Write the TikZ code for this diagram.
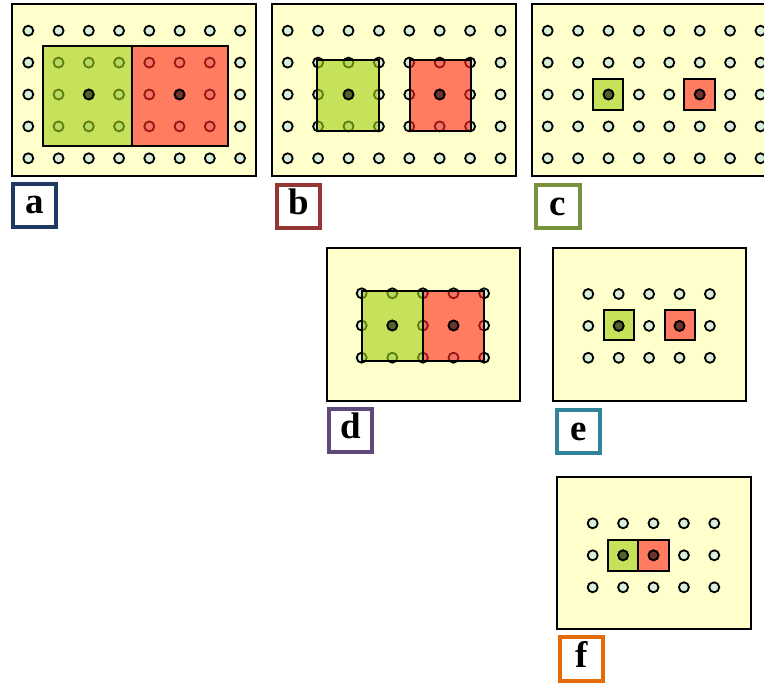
\documentclass[tikz,border=0pt]{standalone}
\usepackage{fontspec}
\setmainfont{Liberation Serif}
\usepackage{xcolor}
\usepackage{tikz}
\usetikzlibrary{positioning}
\definecolor{paper}{HTML}{FFFFCC}
\definecolor{mint}{HTML}{D9EED9}
\definecolor{lime}{HTML}{A0CF11}
\definecolor{salmon}{HTML}{FF261B}
\definecolor{tagA}{HTML}{1F3864}
\definecolor{tagB}{HTML}{943634}
\definecolor{tagC}{HTML}{76923C}
\definecolor{tagD}{HTML}{5F497A}
\definecolor{tagE}{HTML}{31849B}
\definecolor{tagF}{HTML}{E36C09}
\tikzstyle{panel} = [draw=black, fill=paper, line width=2pt]
\tikzstyle{pin} = [circle, draw=black, fill=mint, line width=1.8pt, inner sep=0pt, minimum size=10pt]
\tikzstyle{core} = [pin, fill=black, fill opacity=0.55, draw opacity=1]
\tikzstyle{kernel} = [draw=black, line width=2pt, fill opacity=0.6]
\tikzstyle{tag} = [rectangle, draw, fill=white, line width=4pt, minimum size=43.5pt, inner sep=0pt, text height=17pt, text depth=0pt, font=\fontsize{37}{37}\selectfont\bfseries]

\begin{document}
\begin{tikzpicture}[x=1pt, y=-1pt]
    \useasboundingbox (0,0) rectangle (764,684);
    \clip (0,0) rectangle (764,684);

    % Panel a
    \draw[panel] (12.3,4) rectangle (255.7,176);
    \foreach \i in {0,...,7}
        \foreach \j in {0,...,4}
            \node[pin] (a\i\j) at ({28.3+30.25*\i}, {30.7+31.9*\j}) {};
    \draw[kernel, fill=lime] (42.7,45.7) rectangle (132,146);
    \draw[kernel, fill=salmon] (132,45.7) rectangle (228,146);
    \node[core] (acoreg) at (a22) {};
    \node[core] (acorer) at (a52) {};
    \node[tag, draw=tagA] (taga) at (34.5,205.5) {a};

    % Panel b
    \draw[panel] (272.3,4) rectangle (516,176);
    \foreach \i in {0,...,7}
        \foreach \j in {0,...,4}
            \node[pin] (b\i\j) at ({287.7+30.4*\i}, {30.7+31.9*\j}) {};
    \draw[kernel, fill=lime] (317.3,60.3) rectangle (379.3,130.7);
    \draw[kernel, fill=salmon] (409.7,60.3) rectangle (470.7,130.7);
    \node[core] (bcoreg) at (b22) {};
    \node[core] (bcorer) at (b52) {};
    \node[tag, draw=tagB] (tagb) at (298.3,206.3) {b};

    % Panel c
    \draw[panel] (531.7,4) rectangle (776,176);
    \foreach \i in {0,...,7}
        \foreach \j in {0,...,4}
            \node[pin] (c\i\j) at ({547.7+30.4*\i}, {30.7+31.9*\j}) {};
    \draw[kernel, fill=lime] (592.7,79) rectangle (623.3,110);
    \draw[kernel, fill=salmon] (684.3,79) rectangle (715.3,110);
    \node[core] (ccoreg) at (c22) {};
    \node[core] (ccorer) at (c52) {};
    \node[tag, draw=tagC] (tagc) at (558.2,206.7) {c};

    % Panel d
    \draw[panel] (326.7,248.3) rectangle (520,400.7);
    \foreach \i in {0,...,4}
        \foreach \j in {0,...,2}
            \node[pin] (d\i\j) at ({361.7+30.6*\i}, {293.3+32.2*\j}) {};
    \draw[kernel, fill=lime] (361.7,290.7) rectangle (422.7,361.3);
    \draw[kernel, fill=salmon] (422.7,290.7) rectangle (483.7,361.3);
    \node[core] (dcoreg) at (d11) {};
    \node[core] (dcorer) at (d31) {};
    \node[tag, draw=tagD] (tagd) at (350.3,430.3) {d};

    % Panel e
    \draw[panel] (553.3,248.3) rectangle (746,400.7);
    \foreach \i in {0,...,4}
        \foreach \j in {0,...,2}
            \node[pin] (e\i\j) at ({588.3+30.4*\i}, {294+31.9*\j}) {};
    \draw[kernel, fill=lime] (604,309.7) rectangle (634.3,340);
    \draw[kernel, fill=salmon] (665,309.7) rectangle (695.3,340);
    \node[core] (ecoreg) at (e11) {};
    \node[core] (ecorer) at (e31) {};
    \node[tag, draw=tagE] (tage) at (578.7,431.7) {e};

    % Panel f
    \draw[panel] (557.3,477.3) rectangle (750.7,629.3);
    \foreach \i in {0,...,4}
        \foreach \j in {0,...,2}
            \node[pin] (f\i\j) at ({592.7+30.4*\i}, {523.3+32*\j}) {};
    \draw[kernel, fill=lime] (608.3,540) rectangle (638.3,570.7);
    \draw[kernel, fill=salmon] (638.3,540) rectangle (669,570.7);
    \node[core] (fcoreg) at (f11) {};
    \node[core] (fcorer) at (f21) {};
    \node[tag, draw=tagF] (tagf) at (581.7,659) {f};
\end{tikzpicture}
\end{document}
